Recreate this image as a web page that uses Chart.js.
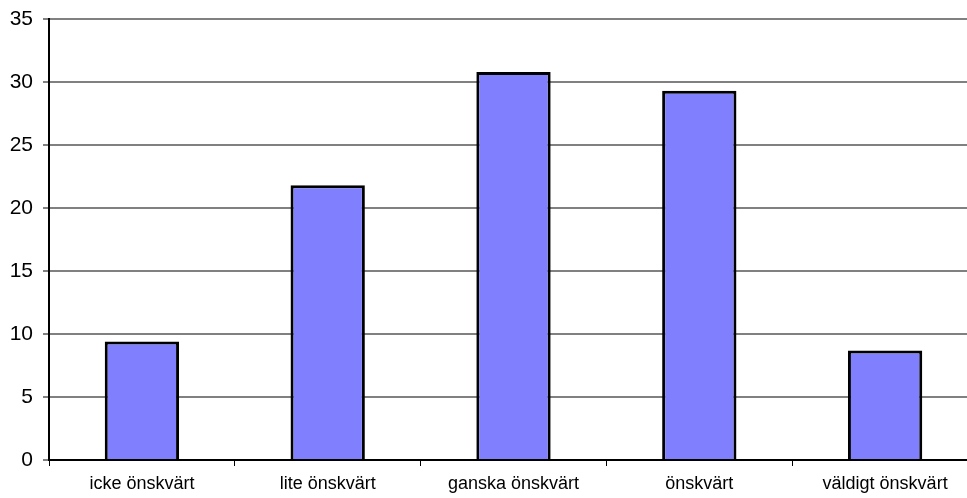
<!DOCTYPE html>
<html>
<head>
<meta charset="utf-8">
<script src="https://cdn.jsdelivr.net/npm/chart.js@4.4.0/dist/chart.umd.min.js"></script>
<style>
  html, body { margin: 0; padding: 0; background: #fff; overflow: hidden; }
  #wrap { width: 967px; height: 498px; overflow: hidden; position: relative; }
  #box { width: 984px; height: 498px; position: absolute; left: 0; top: 0; }
</style>
</head>
<body>
<div id="wrap"><div id="box"><canvas id="c"></canvas></div></div>
<script>
const categories = ['icke önskvärt', 'lite önskvärt', 'ganska önskvärt', 'önskvärt', 'väldigt önskvärt'];
const values = [9.4, 21.8, 30.8, 29.3, 8.7];
const yTicks = [0, 5, 10, 15, 20, 25, 30, 35];

new Chart(document.getElementById('c'), {
  type: 'bar',
  data: {
    labels: categories,
    datasets: [{
      data: values,
      backgroundColor: '#8080FF',
      borderColor: '#000000',
      borderWidth: 3,
      borderSkipped: 'bottom',
      barPercentage: 0.4,
      categoryPercentage: 1.0
    }]
  },
  options: {
    responsive: true,
    maintainAspectRatio: false,
    animation: false,
    events: [],
    layout: { padding: { top: 19, right: 6, bottom: 0, left: 0 } },
    plugins: { legend: { display: false }, tooltip: { enabled: false } },
    scales: {
      x: {
        afterFit: (scale) => { scale.height = 38; },
        grid: {
          offset: true,
          drawOnChartArea: false,
          drawTicks: true,
          tickLength: 6,
          tickColor: '#000000',
          lineWidth: 1
        },
        border: { display: true, color: '#000000', width: 2 },
        ticks: {
          color: '#000000',
          padding: 7,
          maxRotation: 0,
          autoSkip: false,
          font: { family: '"Liberation Sans", Arial, sans-serif', size: 18 }
        }
      },
      y: {
        min: 0,
        max: 35,
        afterBuildTicks: (scale) => { scale.ticks = yTicks.map(v => ({ value: v })); },
        afterFit: (scale) => { scale.width = 49; },
        grid: {
          color: '#808080',
          lineWidth: 2,
          drawTicks: true,
          tickLength: 6,
          tickColor: '#808080'
        },
        border: { display: true, color: '#000000', width: 2 },
        ticks: {
          color: '#000000',
          padding: 10,
          font: { family: '"Liberation Sans", Arial, sans-serif', size: 21, lineHeight: 0.6 }
        }
      }
    }
  }
});
</script>
</body>
</html>
